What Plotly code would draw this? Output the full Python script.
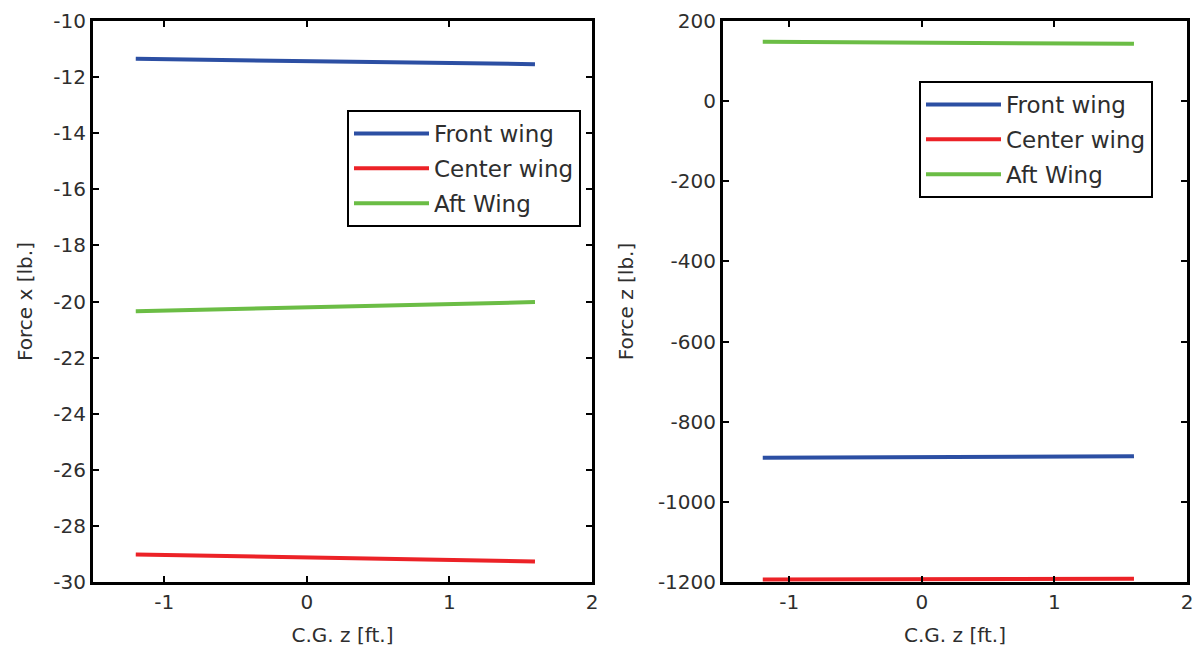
import plotly.graph_objects as go
from plotly.subplots import make_subplots

# C.G. z positions [ft.]
cg_z = [-1.2, -0.8, -0.4, 0.0, 0.4, 0.8, 1.2, 1.6]

# Force x [lb.] per wing
front_fx = [-11.35, -11.38, -11.41, -11.43, -11.46, -11.49, -11.51, -11.54]
center_fx = [-29.02, -29.06, -29.09, -29.13, -29.16, -29.20, -29.23, -29.27]
aft_fx = [-20.35, -20.30, -20.26, -20.21, -20.16, -20.12, -20.07, -20.02]

# Force z [lb.] per wing
front_fz = [-890, -889.5, -889, -888, -887.5, -887, -886.5, -886]
center_fz = [-1194, -1193.7, -1193.4, -1193, -1192.7, -1192.4, -1192.2, -1192]
aft_fz = [148, 147, 146.5, 146, 145, 144.5, 144, 143]

# tick positions and labels (plain hyphen minus signs)
x_ticks = [-1, 0, 1, 2]
x_labels = ["-1", "0", "1", "2"]
fx_ticks = [-30, -28, -26, -24, -22, -20, -18, -16, -14, -12, -10]
fx_labels = ["-30", "-28", "-26", "-24", "-22", "-20", "-18", "-16", "-14", "-12", "-10"]
fz_ticks = [-1200, -1000, -800, -600, -400, -200, 0, 200]
fz_labels = ["-1200", "-1000", "-800", "-600", "-400", "-200", "0", "200"]

names = ["Front wing", "Center wing", "Aft Wing"]
colors = ["#2c4fa3", "#ec2227", "#6bbd45"]

FONT = "DejaVu Sans"
TXT = "#2e2e2e"

fig = make_subplots(rows=1, cols=2)

for i, (ys, name) in enumerate(zip([front_fx, center_fx, aft_fx], names)):
    fig.add_trace(go.Scatter(x=cg_z, y=ys, mode="lines", name=name,
                             line=dict(color=colors[i], width=4),
                             legend="legend", legendgroup="a%d" % i),
                  row=1, col=1)
for i, (ys, name) in enumerate(zip([front_fz, center_fz, aft_fz], names)):
    fig.add_trace(go.Scatter(x=cg_z, y=ys, mode="lines", name=name,
                             line=dict(color=colors[i], width=4),
                             legend="legend2", legendgroup="b%d" % i),
                  row=1, col=2)

axis_common = dict(showline=True, linecolor="black", linewidth=3, mirror="ticks",
                   ticks="inside", ticklen=6, tickwidth=2, tickcolor="black",
                   showgrid=False, zeroline=False, automargin=False,
                   tickfont=dict(family=FONT, size=20, color=TXT),
                   title_font=dict(family=FONT, size=20, color=TXT))

y0, y1 = 1 - 582 / 654, 1 - 21 / 654

fig.update_xaxes(**axis_common, range=[-1.5, 2], tickvals=x_ticks, ticktext=x_labels,
                 title_text="C.G. z [ft.]", title_standoff=15)
fig.update_xaxes(domain=[93 / 1201, 592 / 1201], row=1, col=1)
fig.update_xaxes(domain=[723 / 1201, 1187 / 1201], row=1, col=2)

fig.update_yaxes(**axis_common)
fig.update_yaxes(domain=[y0, y1], range=[-30, -10], tickvals=fx_ticks, ticktext=fx_labels,
                 title_text="Force x [lb.]", title_standoff=16, row=1, col=1)
fig.update_yaxes(domain=[y0, y1], range=[-1200, 200], tickvals=fz_ticks, ticktext=fz_labels,
                 title_text="Force z [lb.]", title_standoff=19, row=1, col=2)

legend_common = dict(bgcolor="white", bordercolor="black", borderwidth=2,
                     font=dict(family=FONT, size=23, color=TXT),
                     xanchor="left", yanchor="top", tracegroupgap=2,
                     itemwidth=75)

fig.update_layout(
    width=1201, height=654,
    margin=dict(l=0, r=0, t=0, b=0),
    paper_bgcolor="white", plot_bgcolor="white",
    legend=dict(**legend_common, x=347 / 1201, y=1 - 110 / 654),
    legend2=dict(**legend_common, x=919 / 1201, y=1 - 81 / 654),
    showlegend=True,
)

fig.write_html("out.html")
